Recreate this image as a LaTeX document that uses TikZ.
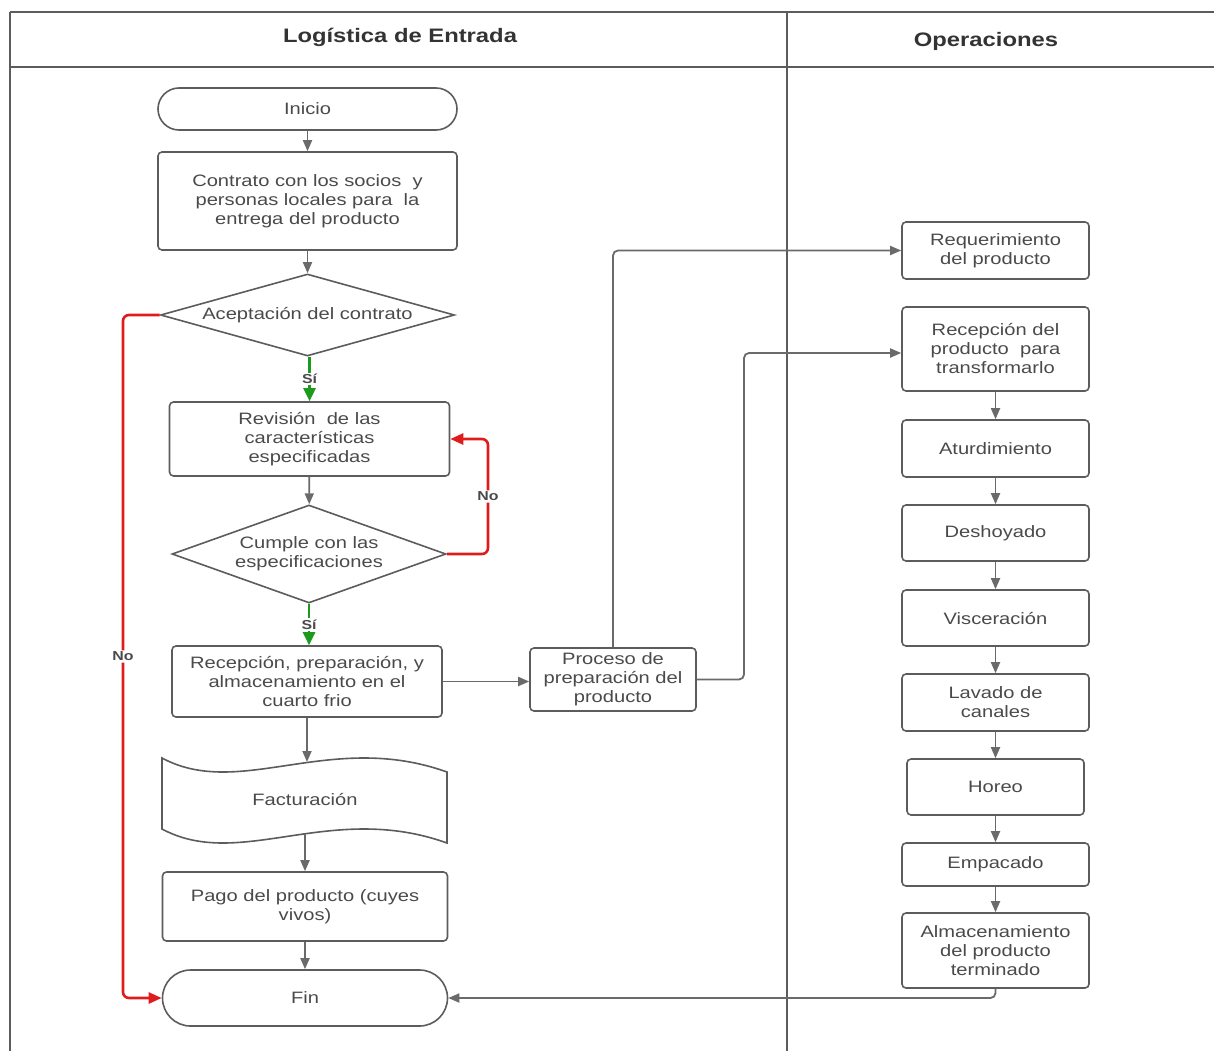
\documentclass[tikz,border=0pt]{standalone}
\usepackage{fontspec}
\setmainfont{Liberation Sans}[FakeStretch=1.22]
\usetikzlibrary{arrows.meta,shapes.geometric}

\definecolor{linegray}{HTML}{6A6A6A}
\definecolor{framegray}{HTML}{5C5C5C}
\definecolor{txtgray}{HTML}{4A4A4A}
\definecolor{yesgreen}{HTML}{1C9A1C}
\definecolor{nored}{HTML}{E01B1B}

\begin{document}
\begin{tikzpicture}[x=1pt,y=-1pt,
  every node/.style={font=\fontsize{16.5}{19}\selectfont, text=txtgray, align=center},
  box/.style={draw=framegray, line width=1.6pt, rounded corners=4pt, inner sep=0pt},
  term/.style={draw=framegray, line width=1.6pt, inner sep=0pt},
  decision/.style={draw=framegray, line width=1.6pt, diamond, inner sep=0pt},
  flow/.style={draw=linegray, line width=1.8pt, rounded corners=5pt,
    -{Triangle[length=11pt,width=9pt]}},
  yes/.style={draw=yesgreen, line width=2.6pt,
    -{Triangle[length=13pt,width=12pt]}},
  no/.style={draw=nored, line width=2.6pt, rounded corners=6pt,
    -{Triangle[length=13pt,width=11pt]}},
  lbl/.style={fill=white, inner sep=1.5pt, font=\fontsize{13}{15}\selectfont\bfseries},
  lane/.style={draw=framegray, line width=2.4pt},
  head/.style={font=\fontsize{19.5}{22}\selectfont\bfseries, text=black!80}
]
\useasboundingbox (0,0) rectangle (1214,1051);

% swimlane frame
\draw[lane] (10,12) -- (1214,12);
\draw[lane] (10,67) -- (1214,67);
\draw[lane] (10,12) -- (10,1051);
\draw[lane] (787,12) -- (787,1051);
\node[head] (h1) at (400,37) {Logística de Entrada};
\node[head] (h2) at (986,41) {Operaciones};

% left lane
\node[term, rounded corners=21pt, minimum width=299pt, minimum height=42pt] (ini) at (307.5,109) {Inicio};
\node[box, minimum width=299pt, minimum height=98pt] (con) at (307.5,201)
  {Contrato con los socios\ \ y\\ personas locales para\ \ la\\ entrega del producto};
\node[decision, shape aspect=3.585, minimum width=294pt, minimum height=82pt] (acep) at (307.5,315)
  {Aceptación del contrato};
\node[box, minimum width=280pt, minimum height=74pt] (rev) at (309.5,439)
  {Revisión\ \ de las\\ características\\ especificadas};
\node[decision, shape aspect=2.8, minimum width=274pt, minimum height=98pt] (cum) at (309,554)
  {Cumple con las\\ especificaciones};
\node[box, minimum width=270pt, minimum height=71pt] (rec) at (307,681.5)
  {Recepción, preparación, y\\ almacenamiento en el\\ cuarto frio};
\node[box, minimum width=166pt, minimum height=63pt] (proc) at (613,679.5)
  {Proceso de\\ preparación del\\ producto};

% punched-tape document shape
\draw[draw=framegray, line width=1.6pt, fill=white]
  (162,758) .. controls (240,800) and (330,730) .. (447,772)
  -- (447,843)
  .. controls (330,801) and (240,871) .. (162,829) -- cycle;
\node[minimum width=285pt, minimum height=70pt, inner sep=0pt] (fac) at (305,799) {Facturación};

\node[box, minimum width=285pt, minimum height=69pt] (pago) at (305,906.5)
  {Pago del producto (cuyes\\ vivos)};
\node[term, rounded corners=28pt, minimum width=285pt, minimum height=56pt] (fin) at (305,998) {Fin};

% right lane
\node[box, minimum width=187pt, minimum height=57pt] (req) at (995.5,250.5) {Requerimiento\\ del producto};
\node[box, minimum width=187pt, minimum height=84pt] (recp) at (995.5,349) {Recepción del\\ producto\ \ para\\ transformarlo};
\node[box, minimum width=187pt, minimum height=57pt] (atu) at (995.5,448.5) {Aturdimiento};
\node[box, minimum width=187pt, minimum height=56pt] (des) at (995.5,533) {Deshoyado};
\node[box, minimum width=187pt, minimum height=56pt] (vis) at (995.5,618) {Visceración};
\node[box, minimum width=187pt, minimum height=57pt] (lav) at (995.5,702.5) {Lavado de\\ canales};
\node[box, minimum width=177pt, minimum height=56pt] (hor) at (995.5,787) {Horeo};
\node[box, minimum width=187pt, minimum height=43pt] (emp) at (995.5,864.5) {Empacado};
\node[box, minimum width=187pt, minimum height=75pt] (alm) at (995.5,950.5) {Almacenamiento\\ del producto\\ terminado};

% routing columns
\coordinate (nl) at (123,0);
\coordinate (nr) at (488,0);
\coordinate (pc) at (744,0);

% connectors, left lane
\draw[flow] (ini) -- (con);
\draw[flow] (con) -- (acep);
\draw[yes] (acep.south -| rev) -- node[lbl]{Sí} (rev.north);
\draw[flow] (rev) -- (cum);
\draw[yes] (cum.south) -- node[lbl]{Sí} (cum.south |- rec.north);
\draw[flow] (rec.east) -- (rec.east -| proc.west);
\draw[flow] (rec.south) -- (rec.south |- 0,762);
\draw[flow] (fac.south) -- (pago.north);
\draw[flow] (pago) -- (fin);
\draw[no] (acep.west) -| node[lbl, pos=0.75]{No} (nl |- fin.west) -- (fin.west);
\draw[no] (cum.east) -| node[lbl, pos=0.75]{No} (nr |- rev.east) -- (rev.east);

% connectors into the operations lane
\draw[flow] (proc.north) |- (req.west);
\draw[flow] (proc.east) -| (pc |- 0,353) -- (recp.west |- 0,353);
\draw[flow] (recp) -- (atu);
\draw[flow] (atu) -- (des);
\draw[flow] (des) -- (vis);
\draw[flow] (vis) -- (lav);
\draw[flow] (lav) -- (hor);
\draw[flow] (hor) -- (emp);
\draw[flow] (emp) -- (alm);
\draw[flow] (alm.south) |- (fin.east);
\end{tikzpicture}
\end{document}
